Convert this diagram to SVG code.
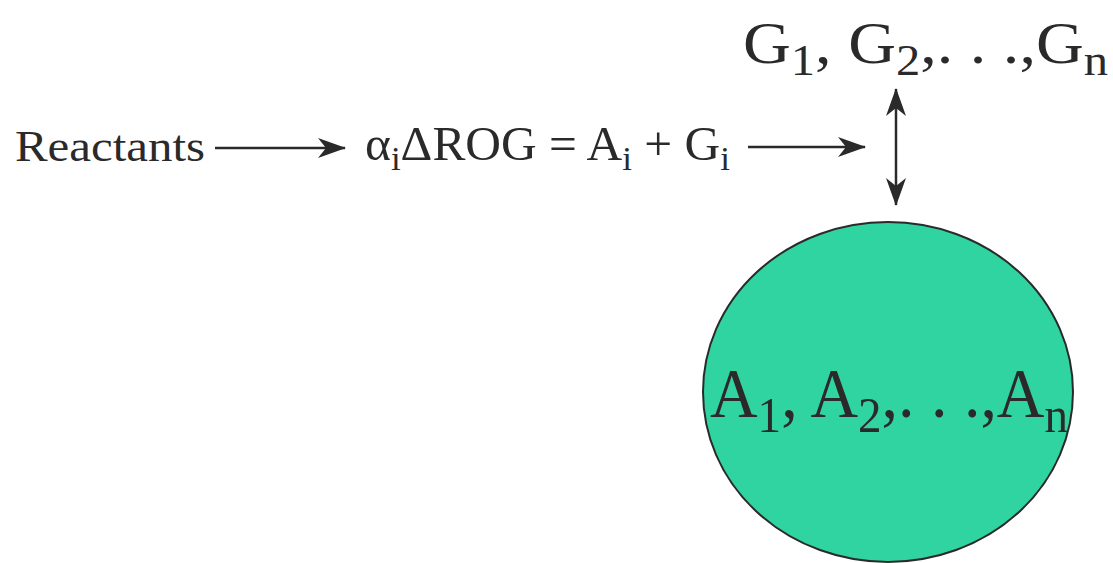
<svg xmlns="http://www.w3.org/2000/svg" width="1113" height="563" viewBox="0 0 1113 563">
<defs>
<style>
.t{font-family:"Liberation Serif","Times New Roman",serif;fill:#2a2a2a;}
.c{stroke:#2a2a2a;stroke-width:2.5;fill:none;}
</style>
<marker id="ah" viewBox="0 0 28 20" refX="27" refY="10" markerWidth="28" markerHeight="20" markerUnits="userSpaceOnUse" orient="auto-start-reverse">
<path d="M0,0 L28,10 L0,20 L8,10 Z" fill="#2a2a2a"/>
</marker>
</defs>
<rect width="1113" height="563" fill="#fff"/>
<g id="reactants"><text class="t" x="15" y="161" font-size="45" textLength="190" lengthAdjust="spacingAndGlyphs">Reactants</text></g>
<g id="equation"><text class="t" x="365" y="160" font-size="48" textLength="365" lengthAdjust="spacingAndGlyphs">α<tspan font-size="34" dy="10">i</tspan><tspan dy="-10">ΔROG = A</tspan><tspan font-size="34" dy="10">i</tspan><tspan dy="-10"> + G</tspan><tspan font-size="34" dy="10">i</tspan></text></g>
<g id="gset"><text class="t" x="743" y="63" font-size="60" textLength="365" lengthAdjust="spacingAndGlyphs">G<tspan font-size="44" dy="12">1</tspan><tspan dy="-12">, G</tspan><tspan font-size="44" dy="12">2</tspan><tspan dy="-12">,. . .,G</tspan><tspan font-size="44" dy="12">n</tspan></text></g>
<g id="aset">
<ellipse cx="888" cy="392" rx="185" ry="170" fill="#30d4a0" stroke="#2a2a2a" stroke-width="2"/>
<text class="t" x="710" y="417" font-size="70" textLength="358" lengthAdjust="spacingAndGlyphs">A<tspan font-size="50" dy="15">1</tspan><tspan dy="-15">, A</tspan><tspan font-size="50" dy="15">2</tspan><tspan dy="-15">,. . .,A</tspan><tspan font-size="50" dy="15">n</tspan></text>
</g>
<g id="connectors">
<line class="c" x1="215" y1="148" x2="345" y2="148" marker-end="url(#ah)"/>
<line class="c" x1="748" y1="147" x2="865" y2="147" marker-end="url(#ah)"/>
<line class="c" x1="896" y1="89" x2="896" y2="205" marker-start="url(#ah)" marker-end="url(#ah)"/>
</g>
</svg>
